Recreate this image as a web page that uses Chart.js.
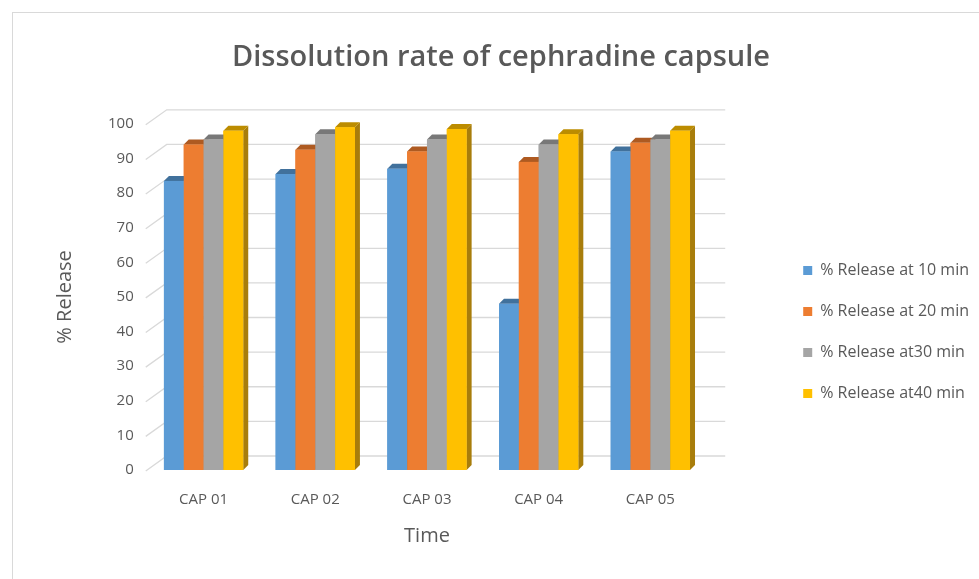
<!DOCTYPE html>
<html>
<head>
<meta charset="utf-8">
<script src="https://cdn.jsdelivr.net/npm/chart.js@4.4.1/dist/chart.umd.min.js"></script>
<style>
  html, body { margin: 0; padding: 0; background: #ffffff; }
  #frame { position: absolute; left: 12px; top: 12px; width: 1000px; height: 600px; border: 1px solid #d9d9d9; }
  #wrap { position: absolute; left: 0; top: 0; width: 979px; height: 579px; }
</style>
</head>
<body>
<div id="frame"></div>
<div id="wrap"><canvas id="dissolutionChart"></canvas></div>
<script>
// Data
const categories = ['CAP 01', 'CAP 02', 'CAP 03', 'CAP 04', 'CAP 05'];
const release10 = [83.5, 85.5, 87, 48, 92];
const release20 = [94, 92.5, 92, 89, 94.5];
const release30 = [95.5, 97, 95.5, 94, 95.5];
const release40 = [98, 99, 98.5, 97, 98];
const seriesLabels = ['% Release at 10 min', '% Release at 20 min', '% Release at30 min', '% Release at40 min'];
const yTicks = [0, 10, 20, 30, 40, 50, 60, 70, 80, 90, 100];

const frontColors = ['#5b9bd5', '#ed7d31', '#a5a5a5', '#ffc000'];
const topColors = ['#41719c', '#ae5a21', '#787878', '#bc8c00'];
const sideColors = ['#3d6a94', '#a65420', '#707070', '#a87d0b'];
const textColor = '#595959';

// depth offsets for the fake 3D look
const BAR_DX = 5, BAR_DY = 5;
const WALL_DX = 19, WALL_DY = 14;

// Back wall gridlines, drawn before the bars
const wallGrid = {
  id: 'wallGrid',
  beforeDatasetsDraw(chart) {
    const ctx = chart.ctx;
    const area = chart.chartArea;
    const y = chart.scales.y;
    ctx.save();
    ctx.strokeStyle = '#d9d9d9';
    ctx.lineWidth = 1.3;
    yTicks.forEach(function(v) {
      const py = y.getPixelForValue(v);
      ctx.beginPath();
      ctx.moveTo(area.left - 2, py + 1);
      ctx.lineTo(area.left + WALL_DX, py - WALL_DY);
      ctx.lineTo(area.right + WALL_DX, py - WALL_DY);
      ctx.stroke();
    });
    ctx.restore();
  }
};

// Top and side faces of each bar, redrawn in depth order
const bars3d = {
  id: 'bars3d',
  afterDatasetsDraw(chart) {
    const ctx = chart.ctx;
    ctx.save();
    for (let c = 0; c < categories.length; c++) {
      for (let d = 0; d < chart.data.datasets.length; d++) {
        const bar = chart.getDatasetMeta(d).data[c];
        const left = bar.x - bar.width / 2;
        const right = bar.x + bar.width / 2;
        const top = bar.y;
        const base = bar.base;
        // side
        ctx.fillStyle = sideColors[d];
        ctx.beginPath();
        ctx.moveTo(right, top);
        ctx.lineTo(right + BAR_DX, top - BAR_DY);
        ctx.lineTo(right + BAR_DX, base - BAR_DY);
        ctx.lineTo(right, base);
        ctx.closePath();
        ctx.fill();
        // top
        ctx.fillStyle = topColors[d];
        ctx.beginPath();
        ctx.moveTo(left, top);
        ctx.lineTo(left + BAR_DX, top - BAR_DY);
        ctx.lineTo(right + BAR_DX, top - BAR_DY);
        ctx.lineTo(right, top);
        ctx.closePath();
        ctx.fill();
        // front
        ctx.fillStyle = frontColors[d];
        ctx.fillRect(left, top, right - left, base - top);
      }
    }
    ctx.restore();
  }
};

const seriesData = [release10, release20, release30, release40];

new Chart(document.getElementById('dissolutionChart'), {
  type: 'bar',
  data: {
    labels: categories,
    datasets: seriesData.map(function(values, i) {
      return {
        label: seriesLabels[i],
        data: values,
        backgroundColor: frontColors[i],
        borderWidth: 0,
        categoryPercentage: 0.71,
        barPercentage: 1.0
      };
    })
  },
  options: {
    responsive: true,
    maintainAspectRatio: false,
    animation: false,
    layout: {
      padding: { left: 23, right: 0, top: 0, bottom: 31 }
    },
    scales: {
      y: {
        min: 0,
        max: 100,
        afterBuildTicks: function(axis) {
          axis.ticks = yTicks.map(function(v) { return { value: v }; });
        },
        grid: { display: false },
        border: { display: false },
        ticks: {
          color: textColor,
          padding: 6,
          font: { family: 'Open Sans', size: 15 }
        },
        title: {
          display: true,
          text: '% Release',
          color: textColor,
          padding: { top: 30, bottom: 25 },
          font: { family: 'Open Sans', size: 20 }
        }
      },
      // empty right axis, only keeps the gap between plot and legend
      gap: {
        position: 'right',
        display: true,
        grid: { display: false },
        border: { display: false },
        ticks: { display: false },
        afterFit: function(axis) { axis.width = 72; }
      },
      x: {
        grid: { display: false },
        border: { display: false },
        ticks: {
          color: textColor,
          padding: 13,
          font: { family: 'Open Sans', size: 15 }
        },
        title: {
          display: true,
          text: 'Time',
          color: textColor,
          padding: { top: 2, bottom: 0 },
          font: { family: 'Open Sans', size: 20 }
        }
      }
    },
    plugins: {
      title: {
        display: true,
        text: 'Dissolution rate of cephradine capsule',
        color: textColor,
        padding: { top: 40, bottom: 49 },
        font: { family: 'Open Sans', size: 29, weight: '600' }
      },
      legend: {
        position: 'right',
        maxWidth: 260,
        title: {
          display: true,
          text: ' ',
          padding: { top: 104, bottom: 0 },
          font: { size: 10 }
        },
        labels: {
          color: textColor,
          boxWidth: 9,
          boxHeight: 9,
          padding: 25,
          font: { family: 'Open Sans', size: 16 }
        }
      },
      tooltip: { enabled: false }
    }
  },
  plugins: [wallGrid, bars3d]
});
</script>
</body>
</html>
